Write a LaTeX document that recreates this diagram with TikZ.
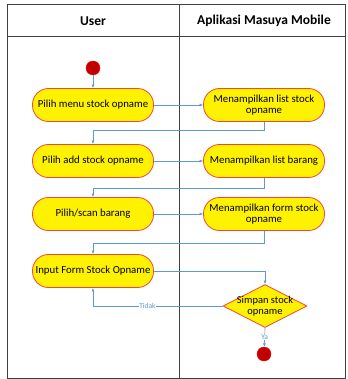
\documentclass[tikz,border=0pt]{standalone}
\usepackage{fontspec}
\setmainfont{Carlito}
\usetikzlibrary{shapes.geometric,arrows.meta}
\definecolor{garis}{RGB}{91,155,213}
\definecolor{tepi}{RGB}{240,70,60}
\definecolor{bulat}{RGB}{192,0,0}
\begin{document}
\begin{tikzpicture}[x=1pt,y=-1pt,
    aktivitas/.style={rectangle, rounded corners=16pt, draw=tepi, line width=0.8pt, fill=yellow,
        minimum width=121pt, minimum height=33pt, align=center, inner sep=1pt,
        font=\fontsize{10.8}{11.5}\selectfont},
    keputusan/.style={diamond, draw=tepi, line width=0.8pt, fill=yellow, minimum width=84pt,
        minimum height=43pt, inner sep=0pt},
    teks/.style={align=center, inner sep=0pt, font=\fontsize{10.5}{11.5}\selectfont},
    titik/.style={circle, draw=red, fill=bulat, minimum size=14pt, inner sep=0pt},
    panah/.style={draw=garis, line width=0.6pt, -{Latex[length=3.5pt,width=3pt]}},
    label/.style={fill=white, text=garis, inner sep=0.5pt, font=\fontsize{7.5}{8}\selectfont}]
    \useasboundingbox (0,0) rectangle (347,379);
    % Swimlane
    \draw[black!75, line width=1pt] (7,5) rectangle (345,378);
    \draw[black!75, line width=1pt] (7,37) -- (345,37);
    \draw[black!75, line width=1pt] (179,5) -- (179,378);
    \node at (93,21) (user) [font=\bfseries\fontsize{13.5}{15}\selectfont] {User};
    \node at (264,21) (app) [font=\bfseries\fontsize{13.5}{15}\selectfont] {Aplikasi Masuya Mobile};
    % Aktivitas user
    \node at (93,68) (mulai) [titik] {};
    \node at (93,105) (a1) [aktivitas] {Pilih menu stock opname};
    \node at (93,161) (a2) [aktivitas] {Pilih add stock opname};
    \node at (93,214) (a3) [aktivitas] {Pilih/scan barang};
    \node at (93,271) (a4) [aktivitas] {Input Form Stock Opname};
    % Aktivitas aplikasi
    \node at (264,105) (b1) [aktivitas] {Menampilkan list stock\\opname};
    \node at (264,161) (b2) [aktivitas] {Menampilkan list barang};
    \node at (264,214) (b3) [aktivitas] {Menampilkan form stock\\opname};
    \node at (265,306) (simpan) [keputusan] {};
    \node at (265,306) (simpanteks) [teks] {Simpan stock\\opname};
    \node at (264,354) (selesai) [titik] {};
    % Alur
    \draw[panah] (mulai) -- (a1);
    \draw[panah] (a1) -- (b1);
    \draw[panah] (b1.south) -- ++(0,8) -| (a2.north);
    \draw[panah] (a2) -- (b2);
    \draw[panah] (b2.south) -- ++(0,10) -| (a3.north);
    \draw[panah] (a3) -- (b3);
    \draw[panah] (b3.south) -- ++(0,12) -| (a4.north);
    \draw[panah] (a4.east) -| (simpan.north);
    \draw[panah] (simpan.west) -| (a4.south) node[label, pos=0.29] {Tidak};
    \draw[panah] (simpan.south) -- (selesai) node[label, midway] {Ya};
\end{tikzpicture}
\end{document}
